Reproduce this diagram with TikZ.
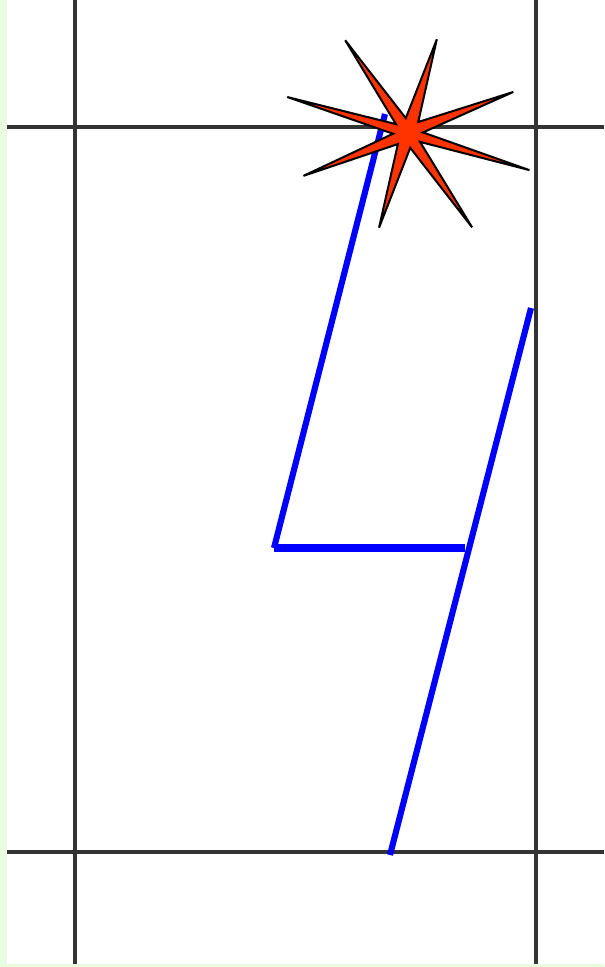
\documentclass[tikz,border=0pt]{standalone}
\usepackage{xcolor}
\usepackage{tikz}

\definecolor{paleGreen}{RGB}{232,252,226}
\definecolor{starRed}{RGB}{255,51,0}
\tikzset{
  gridline/.style={line width=3pt,color=black!80},
  bolt/.style={line width=4.6pt,color=blue},
}

\begin{document}
\begin{tikzpicture}[x=0.75pt,y=-0.75pt]
        \fill[paleGreen] (0,0) rectangle (604,967);
        \fill[white] (7,0) rectangle (604,964);
        \useasboundingbox (0,0) rectangle (604,967);
        % grid
        \draw[gridline] (75,0) -- (75,964);
        \draw[gridline] (536,0) -- (536,964);
        \draw[gridline] (7,127) -- (604,127);
        \draw[gridline] (7,852) -- (604,852);
        % bolt
        \coordinate (top) at (385,114);
        \coordinate (knee) at (274,548);
        \coordinate (elbow) at (465,548);
        \coordinate (upper) at (531,308);
        \coordinate (lower) at (390,855);
        \draw[bolt] (top) -- (knee);
        \draw[bolt,line width=6.5pt] (knee) -- (elbow);
        \draw[bolt] (upper) -- (lower);
        % flash
        \begin{scope}[shift={(408,133)}]
        \filldraw[fill=starRed,draw=black,line width=1.5pt,line join=miter]
          (-124.1:112) -- (-98.5:15) -- (-72.9:98) -- (-47.1:15)
          -- (-21.3:113) -- (-2.2:15) -- (17.0:127) -- (36.4:15)
          -- (55.8:114) -- (81.4:15) -- (107.0:99) -- (132.4:15)
          -- (157.7:113) -- (177.2:15) -- (196.6:126) -- (216.3:15) -- cycle;
        \end{scope}
\end{tikzpicture}
\end{document}
